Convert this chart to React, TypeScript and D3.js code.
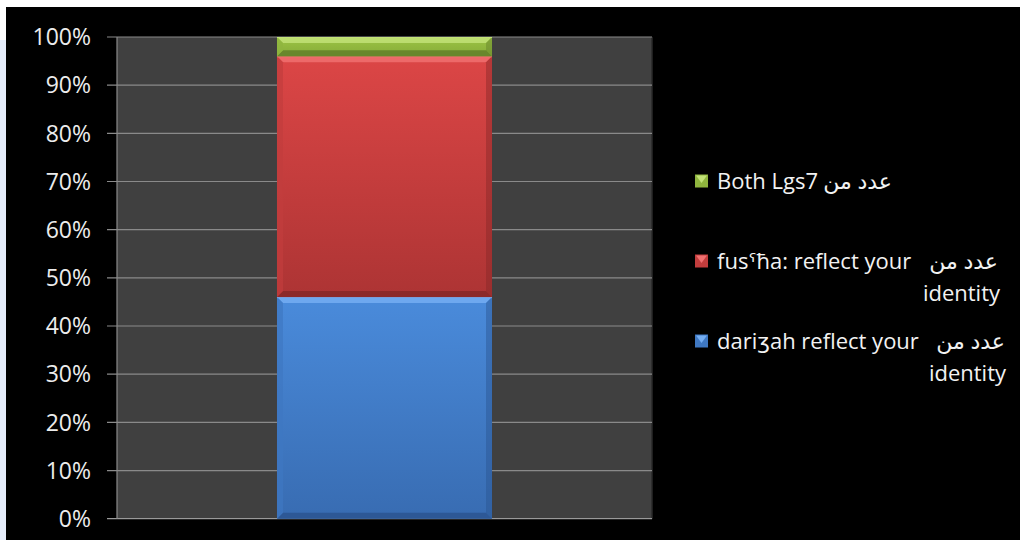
import React from "react";
import * as d3 from "d3";

// chart data (percent of respondents)
const categories = ["Total"];
const seriesNames = ["dariʒah", "fusha", "both"];
const darizahValues = [46];
const fushaValues = [50];
const bothValues = [4];
const tickValues = [0, 0.1, 0.2, 0.3, 0.4, 0.5, 0.6, 0.7, 0.8, 0.9, 1];

const W = 1020;
const H = 543;
const plot = { left: 117, right: 652, top: 37, bottom: 518.7 };

const palette: { [k: string]: { top: string; bottom: string; hi: string; lo: string; side: string } } = {
  "dariʒah": { top: "#4a8bdb", bottom: "#386cb2", hi: "#74adf2", lo: "#2b5590", side: "#3f78c2" },
  fusha: { top: "#dc4646", bottom: "#ad3434", hi: "#f07070", lo: "#862828", side: "#c23d3d" },
  both: { top: "#9cc445", bottom: "#86ab38", hi: "#c2e277", lo: "#63802a", side: "#8fb53e" },
};

const legendItems = [
  { key: "both", en: ["Both Lgs7"], ar: "عدد من", arEnd: 892, lineEnds: [] as number[] },
  { key: "fusha", en: ["fusˤħa: reflect your", "identity"], ar: "عدد من", arEnd: 998, lineEnds: [1000] },
  { key: "dariʒah", en: ["dariʒah reflect your", "identity"], ar: "عدد من", arEnd: 1005, lineEnds: [1006] },
];

const FONT = "'Open Sans', 'DejaVu Sans', sans-serif";

export default function App() {
  const rows = categories.map((c, i) => ({
    cat: c,
    "dariʒah": darizahValues[i],
    fusha: fushaValues[i],
    both: bothValues[i],
  }));
  const total = darizahValues[0] + fushaValues[0] + bothValues[0];

  const x = d3.scaleBand().domain(categories).range([plot.left, plot.right]).paddingInner(0).paddingOuter(0.744);
  const y = d3.scaleLinear().domain([0, 1]).range([plot.bottom, plot.top]);
  const stacked = d3.stack<any>().keys(seriesNames)(rows);

  const b = 6; // bevel size
  const segs: any[] = [];
  stacked.forEach((s) => {
    s.forEach((d: any) => {
      const x0 = x(d.data.cat) ?? 0;
      const x1 = x0 + x.bandwidth();
      const y0 = y(d[1] / total);
      const y1 = y(d[0] / total);
      segs.push({ key: s.key, x0, x1, y0, y1 });
    });
  });

  const pts = (a: number[][]) => a.map((p) => p.join(",")).join(" ");

  return (
    <svg width={W} height={H} style={{ position: "absolute", left: 0, top: 0, display: "block" }}>
      <defs>
        {seriesNames.map((k) => (
          <linearGradient key={k} id={"g-" + k} x1="0" y1="0" x2="0" y2="1">
            <stop offset="0" stopColor={palette[k].top} />
            <stop offset="1" stopColor={palette[k].bottom} />
          </linearGradient>
        ))}
      </defs>
      <rect x={0} y={0} width={W} height={H} fill="#ffffff" />
      <rect x={0} y={40} width={6} height={500} fill="#e6eefb" />
      <rect x={6} y={7} width={W - 6} height={533} fill="#000000" />

      {/* plot area */}
      <rect x={plot.left} y={plot.top} width={plot.right - plot.left} height={plot.bottom - plot.top} fill="#404040" />
      <line x1={plot.right} x2={plot.right} y1={plot.top} y2={plot.bottom} stroke="#2a2a2a" strokeWidth={1.5} />

      {/* gridlines + ticks */}
      {tickValues.map((t) => (
        <g key={t}>
          <line x1={plot.left - 10} x2={plot.right} y1={y(t)} y2={y(t)} stroke={t === 0 ? "#9a9a9a" : "#8a8a8a"} strokeWidth={1.2} />
          <text x={91} y={y(t)} dy="0.36em" textAnchor="end" fill="#ececec" fontFamily={FONT} fontSize={23}>
            {d3.format(".0%")(t)}
          </text>
        </g>
      ))}
      <line x1={plot.left} x2={plot.left} y1={plot.top} y2={plot.bottom} stroke="#8a8a8a" strokeWidth={1.2} />

      {/* stacked bar with bevel */}
      {segs.map((s, i) => {
        const c = palette[s.key];
        const { x0, x1, y0, y1 } = s;
        return (
          <g key={i}>
            <rect x={x0} y={y0} width={x1 - x0} height={y1 - y0} fill={`url(#g-${s.key})`} />
            <polygon points={pts([[x0, y0], [x1, y0], [x1 - b, y0 + b], [x0 + b, y0 + b]])} fill={c.hi} opacity={0.85} />
            <polygon points={pts([[x0, y1], [x1, y1], [x1 - b, y1 - b], [x0 + b, y1 - b]])} fill={c.lo} opacity={0.85} />
            <polygon points={pts([[x0, y0], [x0 + b, y0 + b], [x0 + b, y1 - b], [x0, y1]])} fill={c.side} opacity={0.7} />
            <polygon points={pts([[x1, y0], [x1 - b, y0 + b], [x1 - b, y1 - b], [x1, y1]])} fill={c.lo} opacity={0.45} />
            <line x1={x0} x2={x1} y1={y0 + 0.5} y2={y0 + 0.5} stroke={c.hi} strokeWidth={1} />
          </g>
        );
      })}

      {/* legend */}
      {legendItems.map((it, i) => {
        const cy = [181, 261, 341][i];
        const c = palette[it.key];
        const mx = 695;
        const s = 13;
        return (
          <g key={it.key}>
            <rect x={mx} y={cy - s / 2} width={s} height={s} fill={c.side} />
            <polygon points={pts([[mx + 1, cy - s / 2 + 1], [mx + s - 1, cy - s / 2 + 1], [mx + s / 2, cy + 2]])} fill={c.hi} />
            <text x={717} y={cy + 8} fill="#f2f2f2" fontFamily={FONT} fontSize={22}>
              {it.en[0]}
            </text>
            <text x={it.arEnd} y={cy + 8} textAnchor="end" fill="#f2f2f2" fontFamily={FONT} fontSize={22}>
              {it.ar}
            </text>
            {it.en.slice(1).map((ln, j) => (
              <text key={j} x={it.lineEnds[j]} y={cy + 8 + 32 * (j + 1)} textAnchor="end" fill="#f2f2f2" fontFamily={FONT} fontSize={22}>
                {ln}
              </text>
            ))}
          </g>
        );
      })}
    </svg>
  );
}
